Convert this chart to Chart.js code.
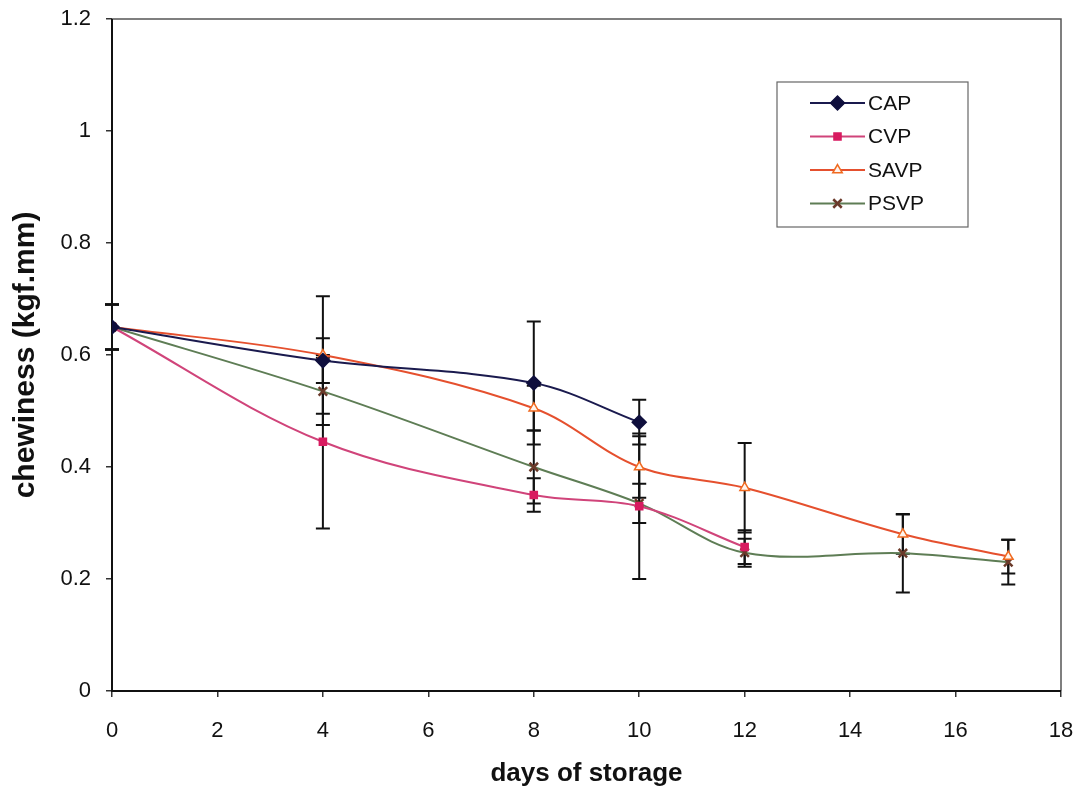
<!DOCTYPE html>
<html>
<head>
<meta charset="utf-8">
<script src="https://cdn.jsdelivr.net/npm/chart.js@4.4.1/dist/chart.umd.min.js"></script>
<style>
  html, body { margin: 0; padding: 0; background: #ffffff; }
  #wrap { width: 1087px; height: 799px; }
</style>
</head>
<body>
<div id="wrap"><canvas id="chart" width="1087" height="799"></canvas></div>
<script>
const capDays = [0, 4, 8, 10];
const capValues = [0.65, 0.59, 0.55, 0.48];
const capErrors = [0.04, 0.04, 0.11, 0.04];

const cvpDays = [0, 4, 8, 10, 12];
const cvpValues = [0.65, 0.445, 0.35, 0.33, 0.257];
const cvpErrors = [0.04, 0.155, 0.03, 0.13, 0.03];

const savpDays = [0, 4, 8, 10, 12, 15, 17];
const savpValues = [0.65, 0.6, 0.505, 0.4, 0.363, 0.28, 0.24];
const savpErrors = [0.04, 0.105, 0.04, 0.055, 0.08, 0.035, 0.03];

const psvpDays = [0, 4, 8, 10, 12, 15, 17];
const psvpValues = [0.65, 0.535, 0.4, 0.335, 0.247, 0.246, 0.23];
const psvpErrors = [0.04, 0.06, 0.065, 0.035, 0.025, 0.07, 0.04];

const xTicks = [0, 2, 4, 6, 8, 10, 12, 14, 16, 18];
const yTicks = [0, 0.2, 0.4, 0.6, 0.8, 1, 1.2];

const FONT = "Arial, \"Liberation Sans\", sans-serif";

function toPoints(days, values, errors) {
  return days.map((d, i) => ({ x: d, y: values[i], err: errors[i] }));
}

function makeSeries(label, days, values, errors, style) {
  return Object.assign({
    label,
    data: toPoints(days, values, errors),
    tension: 0.35,
    borderWidth: 2,
    pointBorderWidth: 1.5,
    fill: false
  }, style);
}

// barras de error con las escalas del grafico
const errorBarsPlugin = {
  id: "errorBars",
  beforeDatasetsDraw(chart) {
    const { ctx, scales } = chart;
    const cap = 7;
    ctx.save();
    ctx.strokeStyle = "#111111";
    ctx.lineWidth = 2;
    chart.data.datasets.forEach((ds) => {
      ds.data.forEach((p) => {
        const x = scales.x.getPixelForValue(p.x);
        const yTop = scales.y.getPixelForValue(p.y + p.err);
        const yBot = scales.y.getPixelForValue(p.y - p.err);
        ctx.beginPath();
        ctx.moveTo(x, yTop);
        ctx.lineTo(x, yBot);
        ctx.moveTo(x - cap, yTop);
        ctx.lineTo(x + cap, yTop);
        ctx.moveTo(x - cap, yBot);
        ctx.lineTo(x + cap, yBot);
        ctx.stroke();
      });
    });
    ctx.restore();
  }
};

const frameAndLegendPlugin = {
  id: "frameAndLegend",
  beforeDatasetsDraw(chart) {
    const { ctx, chartArea: a } = chart;
    ctx.save();
    ctx.strokeStyle = "#555555";
    ctx.lineWidth = 1.5;
    ctx.beginPath();
    ctx.moveTo(a.left, a.top);
    ctx.lineTo(a.right, a.top);
    ctx.lineTo(a.right, a.bottom);
    ctx.stroke();
    ctx.strokeStyle = "#111111";
    ctx.lineWidth = 2;
    ctx.beginPath();
    ctx.moveTo(a.left, a.top);
    ctx.lineTo(a.left, a.bottom);
    ctx.lineTo(a.right, a.bottom);
    ctx.stroke();
    ctx.restore();
  },
  afterDraw(chart) {
    const { ctx, chartArea: a } = chart;
    const boxX = a.left + 665;
    const boxY = a.top + 63;
    const boxW = 191;
    const boxH = 145;
    ctx.save();
    ctx.fillStyle = "#ffffff";
    ctx.fillRect(boxX, boxY, boxW, boxH);
    ctx.strokeStyle = "#666666";
    ctx.lineWidth = 1.2;
    ctx.strokeRect(boxX, boxY, boxW, boxH);
    chart.data.datasets.forEach((ds, i) => {
      const y = boxY + 21 + i * 33.5;
      const x0 = boxX + 33;
      const x1 = boxX + 88;
      ctx.strokeStyle = ds.borderColor;
      ctx.lineWidth = 2;
      ctx.beginPath();
      ctx.moveTo(x0, y);
      ctx.lineTo(x1, y);
      ctx.stroke();
      ctx.fillStyle = ds.pointBackgroundColor;
      ctx.strokeStyle = ds.pointBorderColor;
      ctx.lineWidth = ds.pointBorderWidth;
      Chart.helpers.drawPoint(ctx, {
        pointStyle: ds.pointStyle,
        radius: ds.pointRadius,
        rotation: 0,
        borderWidth: ds.pointBorderWidth
      }, (x0 + x1) / 2, y);
      ctx.font = "21px " + FONT;
      ctx.textBaseline = "middle";
      ctx.fillStyle = "#111111";
      ctx.fillText(ds.label, x1 + 3, y + 1);
    });
    ctx.restore();
  }
};

const datasets = [
  makeSeries("CAP", capDays, capValues, capErrors, {
    borderColor: "#1a1a4e",
    pointStyle: "rectRot",
    pointRadius: 7,
    pointBackgroundColor: "#0f0f3d",
    pointBorderColor: "#0f0f3d"
  }),
  makeSeries("CVP", cvpDays, cvpValues, cvpErrors, {
    borderColor: "#d0447a",
    pointStyle: "rect",
    pointRadius: 5,
    pointBackgroundColor: "#d81b60",
    pointBorderColor: "#d81b60"
  }),
  makeSeries("SAVP", savpDays, savpValues, savpErrors, {
    borderColor: "#e5502e",
    pointStyle: "triangle",
    pointRadius: 5.5,
    pointBackgroundColor: "#fff4ee",
    pointBorderColor: "#f06a20"
  }),
  makeSeries("PSVP", psvpDays, psvpValues, psvpErrors, {
    borderColor: "#5e7d55",
    pointStyle: "crossRot",
    pointRadius: 6,
    pointBorderWidth: 2.5,
    pointBackgroundColor: "#6b3a2a",
    pointBorderColor: "#6b3a2a"
  })
];

Chart.defaults.font.family = FONT;
Chart.defaults.color = "#111111";

new Chart(document.getElementById("chart"), {
  type: "line",
  data: { datasets },
  plugins: [frameAndLegendPlugin, errorBarsPlugin],
  options: {
    responsive: false,
    animation: false,
    layout: { padding: { top: 19, right: 26, left: 8, bottom: 5 } },
    plugins: {
      legend: { display: false },
      tooltip: { enabled: false }
    },
    scales: {
      x: {
        type: "linear",
        min: 0,
        max: 18,
        afterBuildTicks: (s) => { s.ticks = xTicks.map((v) => ({ value: v })); },
        grid: { drawOnChartArea: false, tickLength: 6, color: "#333333", lineWidth: 1.5 },
        border: { display: false },
        ticks: { font: { size: 22 }, padding: 21, maxRotation: 0 },
        title: {
          display: true,
          text: "days of storage",
          font: { size: 26, weight: "bold" },
          padding: { top: 10, bottom: 5 }
        },
        afterFit: (s) => {
          s.height = 103;
          s.paddingLeft = 0;
          s.paddingRight = 0;
        }
      },
      y: {
        type: "linear",
        min: 0,
        max: 1.2,
        afterBuildTicks: (s) => { s.ticks = yTicks.map((v) => ({ value: v })); },
        grid: { drawOnChartArea: false, tickLength: 6, color: "#333333", lineWidth: 1.5 },
        border: { display: false },
        ticks: {
          font: { size: 22 },
          padding: 15,
          callback: (v) => String(Math.round(v * 10) / 10)
        },
        title: {
          display: true,
          text: "chewiness (kgf.mm)",
          font: { size: 30, weight: "bold" },
          padding: { top: 0, bottom: 8 }
        },
        afterFit: (s) => {
          s.width = 104;
          s.paddingTop = 0;
          s.paddingBottom = 0;
        }
      }
    }
  }
});
</script>
</body>
</html>
